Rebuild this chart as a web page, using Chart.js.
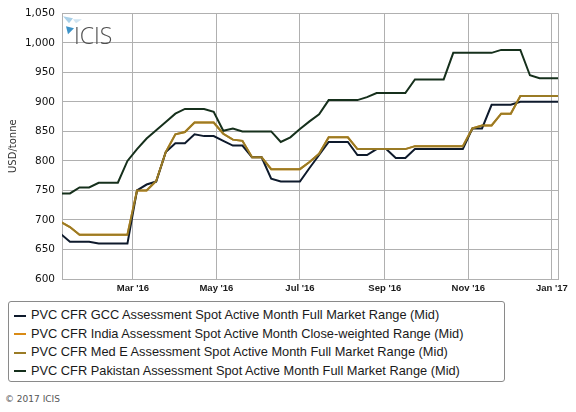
<!DOCTYPE html>
<html lang="en">
<head>
<meta charset="UTF-8">
<title>PVC CFR Middle East / South Asia prices</title>
<script src="https://cdn.jsdelivr.net/npm/chart.js@4"></script>
<style>
  html, body { margin: 0; padding: 0; background: #fff; }
  body { width: 576px; height: 412px; position: relative; overflow: hidden; font-family: "DejaVu Sans", sans-serif; }
  #wrap { position: absolute; left: 0; top: 0; width: 576px; height: 298px; }
  #legend { position: absolute; left: 8px; top: 301px; width: 497px; height: 81px; border: 1px solid #8a8a8a; border-radius: 3px; padding-top: 4px; box-sizing: border-box; }
  .item { height: 18.5px; line-height: 18.5px; font-family: "Liberation Sans", sans-serif; font-size: 12.8px; color: #1a1a1a; white-space: nowrap; }
  .sw { display: inline-block; width: 12px; height: 2px; vertical-align: middle; margin: 0 5px 0 5px; }
  #copy { position: absolute; left: 5px; top: 394px; font-size: 9px; color: #555; }
</style>
</head>
<body>
<div id="wrap"><canvas id="chart"></canvas></div>
<div id="legend"></div>
<div id="copy">© 2017 ICIS</div>

<script>
// weekly assessment dates (Fridays)
const weekDates = [
  '2016-01-08', '2016-01-15', '2016-01-22', '2016-01-29', '2016-02-05', '2016-02-12', '2016-02-19', '2016-02-26',
  '2016-03-04', '2016-03-11', '2016-03-18', '2016-03-25', '2016-04-01', '2016-04-08', '2016-04-15', '2016-04-22',
  '2016-04-29', '2016-05-06', '2016-05-13', '2016-05-20', '2016-05-27', '2016-06-03', '2016-06-10', '2016-06-17',
  '2016-06-24', '2016-07-01', '2016-07-08', '2016-07-15', '2016-07-22', '2016-07-29', '2016-08-05', '2016-08-12',
  '2016-08-19', '2016-08-26', '2016-09-02', '2016-09-09', '2016-09-16', '2016-09-23', '2016-09-30', '2016-10-07',
  '2016-10-14', '2016-10-21', '2016-10-28', '2016-11-04', '2016-11-11', '2016-11-18', '2016-11-25', '2016-12-02',
  '2016-12-09', '2016-12-16', '2016-12-23', '2016-12-30', '2017-01-06'
];

const gccMid = [
  677, 663, 663, 663, 660, 660, 660, 660, 750, 760,
  765, 815, 830, 830, 845, 842, 842, 834, 826, 826,
  806, 806, 770, 765, 765, 765, 788, 810, 832, 832,
  832, 810, 810, 820, 820, 805, 805, 820, 820, 820,
  820, 820, 820, 855, 855, 895, 895, 895, 900, 900,
  900, 900, 900
];
const indiaMid = [
  697, 688, 675, 675, 675, 675, 675, 675, 750, 750,
  766, 815, 845, 849, 865, 865, 865, 846, 836, 834,
  806, 806, 786, 786, 786, 786, 798, 812, 840, 840,
  840, 820, 820, 820, 820, 820, 820, 825, 825, 825,
  825, 825, 825, 855, 860, 860, 880, 880, 910, 910,
  910, 910, 910
];
const medEMid = [
  697, 688, 675, 675, 675, 675, 675, 675, 750, 750,
  766, 815, 845, 849, 865, 865, 865, 846, 836, 834,
  806, 806, 786, 786, 786, 786, 798, 812, 840, 840,
  840, 820, 820, 820, 820, 820, 820, 825, 825, 825,
  825, 825, 825, 855, 860, 860, 880, 880, 910, 910,
  910, 910, 910
];
const pakistanMid = [
  745, 745, 755, 755, 763, 763, 763, 800, 820, 838,
  852, 866, 880, 888, 888, 888, 883, 851, 855, 850,
  850, 850, 850, 832, 840, 854, 867, 879, 903, 903,
  903, 903, 908, 915, 915, 915, 915, 938, 938, 938,
  938, 983, 983, 983, 983, 983, 988, 988, 988, 945,
  940, 940, 940
];

const seriesNames = [
  'PVC CFR GCC Assessment Spot Active Month Full Market Range (Mid)',
  'PVC CFR India Assessment Spot Active Month Close-weighted Range (Mid)',
  'PVC CFR Med E Assessment Spot Active Month Full Market Range (Mid)',
  'PVC CFR Pakistan Assessment Spot Active Month Full Market Range (Mid)'
];
const seriesColors = ['#0e1a2c', '#d98b16', '#9a7b25', '#16301c'];

const tickDates = ['2016-03-01', '2016-05-01', '2016-07-01', '2016-09-01', '2016-11-01', '2017-01-01'];
const tickLabels = ["Mar '16", "May '16", "Jul '16", "Sep '16", "Nov '16", "Jan '17"];
const axisStart = '2016-01-09';
const axisEnd = '2017-01-05';

// days since 1 Jan 2016
function dayNum(s) {
  const p = s.split('-').map(Number);
  return (Date.UTC(p[0], p[1] - 1, p[2]) - Date.UTC(2016, 0, 1)) / 86400000;
}

function points(values) {
  return values.map((v, i) => ({ x: dayNum(weekDates[i]), y: v }));
}

const frame = {
  id: 'frame',
  beforeDatasetsDraw(chart) {
    const { ctx, chartArea: a } = chart;
    ctx.save();
    // right border
    ctx.strokeStyle = '#b0b0b0';
    ctx.lineWidth = 1;
    ctx.beginPath();
    ctx.moveTo(a.right + 0.5, a.top);
    ctx.lineTo(a.right + 0.5, a.bottom);
    ctx.stroke();
    // ICIS logo
    const tri = (pts, col) => {
      ctx.fillStyle = col;
      ctx.beginPath();
      ctx.moveTo(a.left + pts[0], a.top + pts[1]);
      ctx.lineTo(a.left + pts[2], a.top + pts[3]);
      ctx.lineTo(a.left + pts[4], a.top + pts[5]);
      ctx.closePath();
      ctx.fill();
    };
    tri([1, 3, 11, 5, 7, 10], '#a9d0e8');
    tri([11, 6, 20, 6, 14, 10], '#cfe4f2');
    tri([4, 13, 12, 15, 6, 21], '#3d93c8');
    ctx.fillStyle = '#505050';
    ctx.font = '300 23px "Open Sans"';
    ctx.textBaseline = 'alphabetic';
    ctx.fillText('ICIS', a.left + 12, a.top + 31);
    ctx.restore();
  }
};

const datasets = [gccMid, indiaMid, medEMid, pakistanMid].map((vals, i) => ({
  label: seriesNames[i],
  data: points(vals),
  borderColor: seriesColors[i],
  backgroundColor: seriesColors[i],
  borderWidth: 2,
  pointRadius: 0,
  tension: 0,
  order: [1, 2, 0, 0][i]
}));

new Chart(document.getElementById('chart'), {
  type: 'line',
  data: { datasets: datasets },
  options: {
    animation: false,
    responsive: true,
    maintainAspectRatio: false,
    layout: { padding: { top: 9, right: 18, left: 0, bottom: 0 } },
    plugins: { legend: { display: false }, tooltip: { enabled: false } },
    scales: {
      x: {
        type: 'linear',
        min: dayNum(axisStart) + 0.2,
        max: dayNum(axisEnd) + 0.5,
        afterBuildTicks: s => { s.ticks = tickDates.map(d => ({ value: dayNum(d) })); },
        afterFit: s => { s.height = 19; },
        ticks: {
          padding: 4,
          color: '#1a1a1a',
          font: { family: 'Liberation Sans', size: 9.5, weight: 'bold' },
          maxRotation: 0,
          callback: (v, i) => tickLabels[i]
        },
        grid: { color: '#b0b0b0', drawTicks: false },
        border: { color: '#b0b0b0' }
      },
      y: {
        min: 600,
        max: 1050,
        afterFit: s => { s.width = 62; },
        ticks: {
          stepSize: 50,
          padding: 7,
          color: '#111',
          font: { family: 'DejaVu Sans', size: 10.5 }
        },
        grid: { color: '#b0b0b0', drawTicks: false },
        border: { color: '#b0b0b0' },
        title: {
          display: true,
          text: 'USD/tonne',
          color: '#333',
          padding: { top: 7, bottom: 0 },
          font: { family: 'DejaVu Sans', size: 10 }
        }
      }
    }
  },
  plugins: [frame]
});

// legend box under the chart
const legendBox = document.getElementById('legend');
seriesNames.forEach((name, i) => {
  const row = document.createElement('div');
  row.className = 'item';
  row.innerHTML = `<span class="sw" style="background:${seriesColors[i]}"></span>${name}`;
  legendBox.appendChild(row);
});
</script>
</body>
</html>
